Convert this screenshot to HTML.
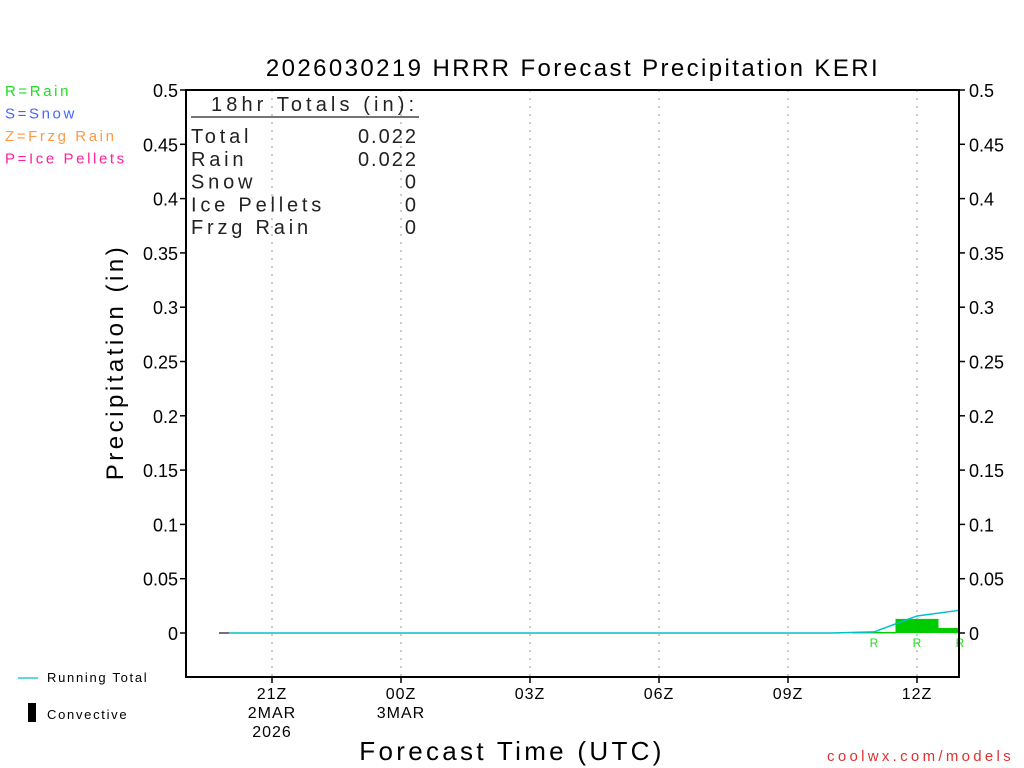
<!DOCTYPE html>
<html><head><meta charset="utf-8"><style>
body{margin:0;background:#fff;width:1024px;height:768px;overflow:hidden}
svg{display:block}
text{font-family:"Liberation Sans",sans-serif}
</style></head><body>
<svg id="c" width="1024" height="768"></svg>
<script>
const hours=[35,36,37];
const precipValues=[0.001,0.013,0.0046];
const runHours=[20,21,22,23,24,25,26,27,28,29,30,31,32,33,34,35,36,37];
const runTotals=[0,0,0,0,0,0,0,0,0,0,0,0,0,0,0,0.001,0.0157,0.021];
const yTicks=[0,0.05,0.1,0.15,0.2,0.25,0.3,0.35,0.4,0.45,0.5];
const yTickLabels=["0","0.05","0.1","0.15","0.2","0.25","0.3","0.35","0.4","0.45","0.5"];
const xTickHours=[21,24,27,30,33,36];
const xTickLabels=[["21Z","2MAR","2026"],["00Z","3MAR"],["03Z"],["06Z"],["09Z"],["12Z"]];
const rainLabelHours=[35,36,37];
const summaryLabels=["Total","Rain","Snow","Ice Pellets","Frzg Rain"];
const summaryValues=["0.022","0.022","0","0","0"];

const svg=document.getElementById('c');const NS='http://www.w3.org/2000/svg';
const L=186,R=959,T=90,B=677;
const X=h=>272+(h-21)*43;
const Y=v=>633-v*1086;
function el(tag,a,txt){const e=document.createElementNS(NS,tag);for(const k in a)e.setAttribute(k,a[k]);if(txt!==undefined)e.textContent=txt;svg.appendChild(e);return e;}
function tx(x,y,s,size,fill,anchor,name){const e=el('text',{x:x,y:y,'font-size':size,fill:fill,'text-anchor':anchor||'start'},s);

return e;}
// grid
xTickHours.forEach(h=>{const g=el('line',{x1:X(h),x2:X(h),y1:T,y2:B,stroke:'#bbb','stroke-width':1.5,'stroke-dasharray':'2,6'});

});
// bars
hours.forEach((h,i)=>{const x0=Math.max(L,X(h-0.5)),x1=Math.min(R,X(h+0.5));const v=precipValues[i];
const b=el('rect',{x:x0,y:Y(v),width:x1-x0,height:Math.max(1.5,Y(0)-Y(v)),fill:'#00cc00'});

});
// baseline
const bl=el('line',{x1:219,x2:X(runHours[0]),y1:Y(0),y2:Y(0),stroke:'#444','stroke-width':1.5});


// running total
const pl=el('polyline',{points:runHours.map((h,i)=>X(h)+','+Y(runTotals[i])).join(' '),fill:'none',stroke:'#00c0c8','stroke-width':1.5});


// R labels
rainLabelHours.forEach(h=>tx(X(h),647,'R',12,'#22dd22','middle','rain-label'));
// axes frame
const fr=el('path',{d:`M${L},${T}H${R}V${B}H${L}Z`,fill:'none',stroke:'#000','stroke-width':2});


yTicks.forEach((v,i)=>{el('line',{x1:L-6,x2:L,y1:Y(v),y2:Y(v),stroke:'#000','stroke-width':1.5});
el('line',{x1:R,x2:R+6,y1:Y(v),y2:Y(v),stroke:'#000','stroke-width':1.5});
tx(L-8,Y(v)+7,yTickLabels[i],18,'#000','end','y-tick-label-left');
tx(R+10,Y(v)+7,yTickLabels[i],18,'#000','start','y-tick-label-right');});
xTickHours.forEach((h,i)=>{el('line',{x1:X(h),x2:X(h),y1:B,y2:B+6,stroke:'#000','stroke-width':1.5});
xTickLabels[i].forEach((s,j)=>tx(X(h),699+j*19,s,16,'#000','middle','x-tick-label').setAttribute('letter-spacing','1'));});
// titles
tx(573,76,'2026030219 HRRR Forecast Precipitation KERI',24,'#000','middle','chart-title').setAttribute('letter-spacing','2.4');
tx(512,760,'Forecast Time (UTC)',26,'#000','middle','x-axis-title').setAttribute('letter-spacing','3.3');
const yt=tx(0,0,'Precipitation (in)',24,'#000','middle','y-axis-title');yt.setAttribute('transform','translate(123,362) rotate(-90)');yt.setAttribute('letter-spacing','3.5');
tx(1014,761,'coolwx.com/models',15,'#e03030','end','source-credit').setAttribute('letter-spacing','3.3');
// legend top-left
[['R=Rain','#22dd22'],['S=Snow','#4466ff'],['Z=Frzg Rain','#ff9944'],['P=Ice Pellets','#ff2299']].forEach((p,i)=>{const t=tx(5,96+i*22.5,p[0],15,p[1],'start','ptype-legend-entry');t.setAttribute('letter-spacing','2.6');});
// summary box
tx(211,111,'18hr Totals (in):',20,'#222','start','totals-header').setAttribute('letter-spacing','4.1');
const ul=el('line',{x1:191,x2:419,y1:117,y2:117,stroke:'#222','stroke-width':1.3});


summaryLabels.forEach((s,i)=>{tx(191,143+i*22.8,s,20,'#222','start','totals-label').setAttribute('letter-spacing','3.8');
tx(418,143+i*22.8,summaryValues[i],20,'#222','end','totals-value').setAttribute('letter-spacing','2');});
// bottom legend
const rl=el('line',{x1:18,x2:38,y1:678,y2:678,stroke:'#00c0c8','stroke-width':1.2});


tx(47,682,'Running Total',13,'#000','start','running-total-legend-label').setAttribute('letter-spacing','1.7');
const cr=el('rect',{x:28,y:703,width:8,height:19,fill:'#000'});


tx(47,719,'Convective',13,'#000','start','convective-legend-label').setAttribute('letter-spacing','1.7');
</script>
</body></html>
